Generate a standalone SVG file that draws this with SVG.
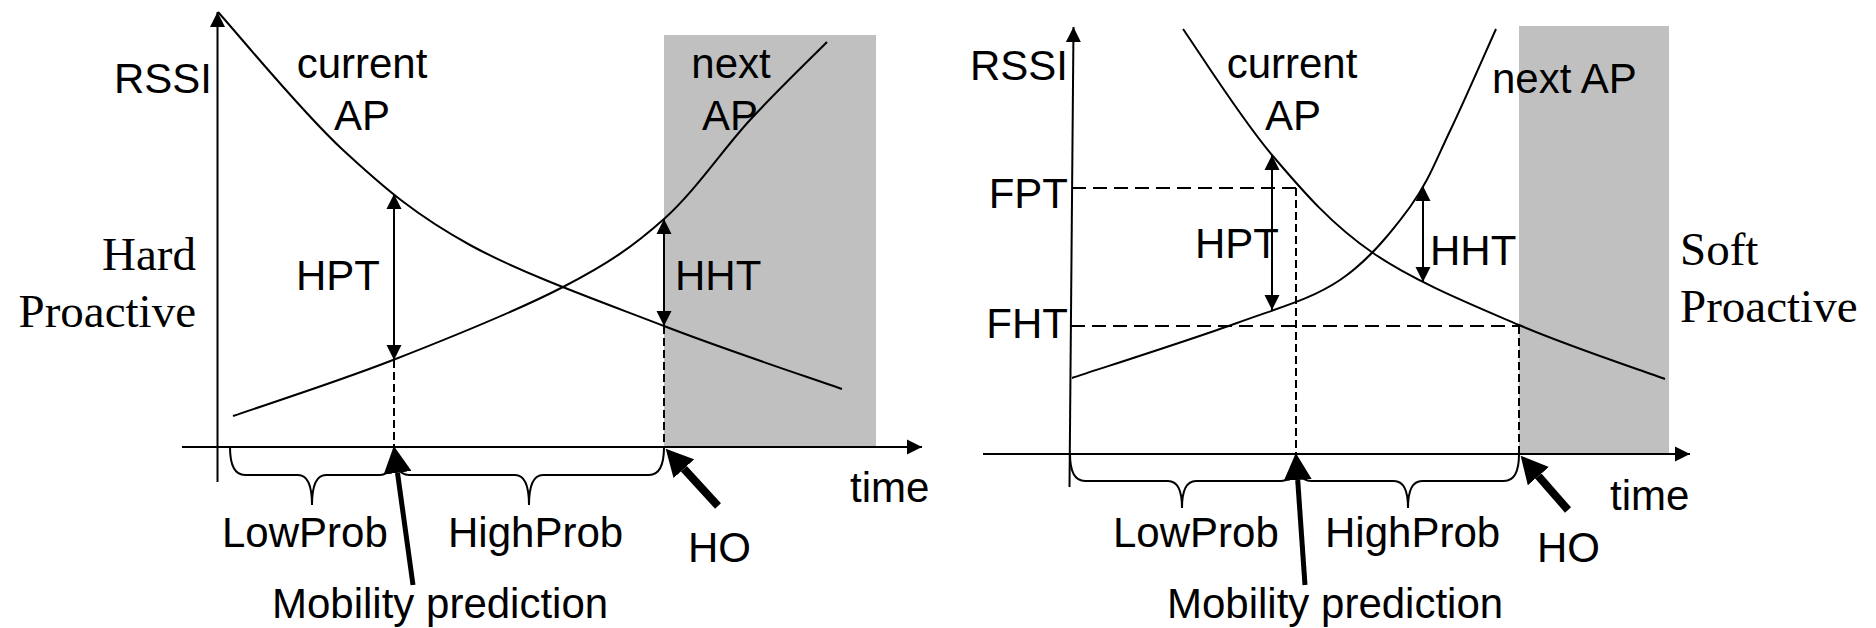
<svg xmlns="http://www.w3.org/2000/svg" width="1876" height="628" viewBox="0 0 1876 628">
<style>
.sans{font-family:"Liberation Sans",Arial,sans-serif;font-size:42px;fill:#000}
.serif{font-family:"Liberation Serif","Times New Roman",serif;font-size:47px;fill:#000}
.ln{stroke:#000;stroke-width:2;fill:none}
.dv{stroke:#000;stroke-width:2;fill:none;stroke-dasharray:8 4}
.dh{stroke:#000;stroke-width:2;fill:none;stroke-dasharray:14 7}
.shade{fill:#c0c0c0}
.thick{stroke:#000;fill:none}
</style>
<defs>
<marker id="ah" markerUnits="userSpaceOnUse" markerWidth="16" markerHeight="16" viewBox="0 0 16 16" refX="15" refY="8" orient="auto-start-reverse">
<path d="M0,0.5 L15,8 L0,15.5 z" fill="#000"/>
</marker>
<marker id="big" markerUnits="userSpaceOnUse" markerWidth="28" markerHeight="28" viewBox="0 0 28 28" refX="0" refY="14" orient="auto">
<path d="M0,0 L27,14 L0,28 z" fill="#000"/>
</marker>
</defs>

<g id="left-panel">
<rect id="left-shade" class="shade" x="664" y="35" width="212" height="412"/>
<g id="left-axes">
<line class="ln" x1="217.5" y1="482" x2="217.5" y2="12" marker-end="url(#ah)"/>
<line class="ln" x1="182" y1="447" x2="922" y2="447" marker-end="url(#ah)"/>
</g>
<g id="left-current-ap">
<path class="ln" d="M218,12 C238.8,35 301,111.2 343,150 C385,188.8 416.5,215.7 470,245 C523.5,274.3 602,302 664,326 C726,350 812.3,378.5 842,389"/>
</g>
<g id="left-next-ap">
<path class="ln" d="M233,416 C259.7,406.7 338,381.5 393,360 C448,338.5 517.8,310.5 563,287 C608.2,263.5 632.8,246.8 664,219 C695.2,191.2 722.8,149.5 750,120 C777.2,90.5 814.2,55 827,42"/>
</g>
<g id="left-connectors">
<line class="ln" x1="394" y1="194" x2="394" y2="360" marker-start="url(#ah)" marker-end="url(#ah)"/>
<line class="ln" x1="664" y1="219" x2="664" y2="326" marker-start="url(#ah)" marker-end="url(#ah)"/>
<line class="dv" x1="394" y1="360" x2="394" y2="447"/>
<line class="dv" x1="664" y1="326" x2="664" y2="447"/>
<path class="ln" d="M230,447 Q230,475 245,475 L298,475 Q312,475 312,505 Q312,475 326,475 L380,475 Q394,475 394,447"/>
<path class="ln" d="M394,447 Q394,475 409,475 L515,475 Q529,475 529,505 Q529,475 543,475 L649,475 Q664,475 664,447"/>
<line class="thick" stroke-width="5" x1="413" y1="585" x2="397.5" y2="472.8" marker-end="url(#big)"/>
<line class="thick" stroke-width="8" x1="718" y1="506" x2="683.9" y2="468.7" marker-end="url(#big)"/>
</g>
<g id="left-labels">
<text class="sans" x="212" y="93" text-anchor="end">RSSI</text>
<text class="sans" x="362" y="78" text-anchor="middle">current</text>
<text class="sans" x="362" y="130" text-anchor="middle">AP</text>
<text class="sans" x="731" y="78" text-anchor="middle">next</text>
<text class="sans" x="730" y="130" text-anchor="middle">AP</text>
<text class="sans" x="380" y="290" text-anchor="end">HPT</text>
<text class="sans" x="675" y="290">HHT</text>
<text class="serif" x="196" y="270" text-anchor="end">Hard</text>
<text class="serif" x="196" y="327" text-anchor="end">Proactive</text>
<text class="sans" x="222" y="547">LowProb</text>
<text class="sans" x="448" y="547">HighProb</text>
<text class="sans" x="688" y="562">HO</text>
<text class="sans" x="850" y="502">time</text>
<text class="sans" x="272" y="618">Mobility prediction</text>
</g>
</g>

<g id="right-panel">
<rect id="right-shade" class="shade" x="1519" y="26" width="150" height="428"/>
<g id="right-axes">
<line class="ln" x1="1069.5" y1="487" x2="1073.5" y2="27" marker-end="url(#ah)"/>
<line class="ln" x1="983" y1="454" x2="1690" y2="454" marker-end="url(#ah)"/>
</g>
<g id="right-current-ap">
<path class="ln" d="M1183,29 C1197.8,50 1240.3,117.7 1272,155 C1303.7,192.3 1331.8,224.7 1373,253 C1414.2,281.3 1470.3,304 1519,325 C1567.7,346 1640.7,370 1665,379"/>
</g>
<g id="right-next-ap">
<path class="ln" d="M1072,378 C1099.5,368.8 1192.3,339.3 1237,323 C1281.7,306.7 1311.2,299.3 1340,280 C1368.8,260.7 1391.7,232 1410,207 C1428.3,182 1435.7,160.7 1450,131 C1464.3,101.3 1488.3,46 1496,29"/>
</g>
<g id="right-connectors">
<line class="dh" x1="1072" y1="188" x2="1296" y2="188"/>
<line class="dv" x1="1296" y1="188" x2="1296" y2="454"/>
<line class="dh" x1="1071" y1="326" x2="1519" y2="326"/>
<line class="dv" x1="1519" y1="326" x2="1519" y2="454"/>
<line class="ln" x1="1272" y1="155" x2="1272" y2="310" marker-start="url(#ah)" marker-end="url(#ah)"/>
<line class="ln" x1="1423" y1="186" x2="1423" y2="282" marker-start="url(#ah)" marker-end="url(#ah)"/>
<path class="ln" d="M1070,454 Q1070,481 1085,481 L1168,481 Q1182,481 1182,508 Q1182,481 1196,481 L1281,481 Q1296,481 1296,454"/>
<path class="ln" d="M1296,454 Q1296,481 1311,481 L1394,481 Q1408,481 1408,508 Q1408,481 1422,481 L1504,481 Q1519,481 1519,454"/>
<line class="thick" stroke-width="5" x1="1305" y1="585" x2="1297.7" y2="480" marker-end="url(#big)"/>
<line class="thick" stroke-width="8" x1="1568" y1="510" x2="1538.4" y2="476.1" marker-end="url(#big)"/>
</g>
<g id="right-labels">
<text class="sans" x="1068" y="80" text-anchor="end">RSSI</text>
<text class="sans" x="1068" y="208" text-anchor="end">FPT</text>
<text class="sans" x="1068" y="338" text-anchor="end">FHT</text>
<text class="sans" x="1292" y="78" text-anchor="middle">current</text>
<text class="sans" x="1293" y="130" text-anchor="middle">AP</text>
<text class="sans" x="1195" y="258">HPT</text>
<text class="sans" x="1430" y="265">HHT</text>
<text class="sans" x="1492" y="93">next AP</text>
<text class="serif" x="1680" y="265">Soft</text>
<text class="serif" x="1680" y="322">Proactive</text>
<text class="sans" x="1610" y="510">time</text>
<text class="sans" x="1537" y="562">HO</text>
<text class="sans" x="1113" y="547">LowProb</text>
<text class="sans" x="1325" y="547">HighProb</text>
<text class="sans" x="1167" y="618">Mobility prediction</text>
</g>
</g>
</svg>
